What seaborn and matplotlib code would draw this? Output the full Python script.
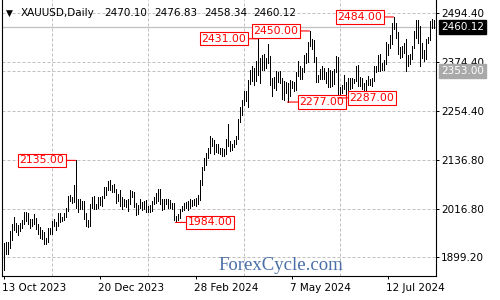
import matplotlib
matplotlib.use("Agg")
import matplotlib.pyplot as plt
import matplotlib.transforms as mtransforms
import numpy as np
import pandas as pd
import seaborn as sns

# ---------------- data (XAUUSD daily, 13 Oct 2023 - 14 Aug 2024) ----------------
highs = [
    1933,
    1936, 1937, 1962, 1981, 1997,
    1983, 1977, 1982, 1990, 2009,
    2009, 2007, 1993, 1993, 2004,
    1994, 1980, 1972, 1965, 1960,
    1947, 1971, 1970, 1987, 1993,
    1984, 2007, 2007, 1997, 2008,
    2018, 2048, 2052, 2047, 2075,
    2135, 2040, 2040, 2035, 2036,
    2007, 1990, 2030, 2047, 2048,
    2029, 2047, 2046, 2048, 2071,
    2070, 2084, 2088, 2075,
    2078, 2065, 2053, 2064,
    2046, 2040, 2039, 2040, 2062,
    2061, 2057, 2032, 2026, 2042,
    2033, 2037, 2038, 2023, 2026,
    2037, 2047, 2056, 2065, 2065,
    2041, 2040, 2040, 2041, 2038,
    2032, 2032, 1999, 2005, 2016,
    2023, 2031, 2034, 2035, 2041,
    2039, 2040, 2043, 2052, 2088,
    2119, 2141, 2152, 2165, 2195,
    2189, 2185, 2175, 2175, 2165,
    2164, 2163, 2188, 2223, 2183,
    2176, 2184, 2195, 2236,
    2266, 2281, 2305, 2305, 2331,
    2354, 2365, 2359, 2378, 2431,
    2384, 2392, 2395, 2385, 2418,
    2390, 2336, 2337, 2352, 2351,
    2353, 2335, 2327, 2326, 2323,
    2331, 2327, 2326, 2351, 2378,
    2365, 2361, 2392, 2396, 2422,
    2450, 2431, 2427, 2386, 2344,
    2357, 2364, 2361, 2351, 2360,
    2355, 2353, 2358, 2388, 2387,
    2314, 2318, 2342, 2326, 2335,
    2335, 2335, 2334, 2365, 2368,
    2337, 2336, 2324, 2331, 2340,
    2334, 2336, 2365, 2364, 2392,
    2394, 2372, 2380, 2424, 2418,
    2440, 2469, 2484, 2470, 2448,
    2412, 2413, 2421, 2430, 2391,
    2393, 2414, 2451, 2477, 2477,
    2461, 2420, 2403, 2430, 2436,
    2475, 2480, 2476.83,
]
lows = [
    1868,
    1908, 1908, 1922, 1942, 1965,
    1960, 1954, 1962, 1970, 1981,
    1987, 1980, 1970, 1975, 1980,
    1967, 1956, 1947, 1944, 1931,
    1932, 1936, 1955, 1956, 1975,
    1965, 1975, 1986, 1988, 1991,
    1997, 2011, 2037, 2031, 2034,
    2019, 2009, 2016, 2017, 1993,
    1976, 1973, 1975, 2019, 2016,
    2016, 2018, 2026, 2023, 2044,
    2052, 2063, 2063, 2058,
    2057, 2031, 2035, 2024,
    2017, 2023, 2021, 2013, 2029,
    2045, 2021, 2002, 2004, 2020,
    2015, 2016, 2010, 2009, 2009,
    2012, 2030, 2031, 2035, 2030,
    2014, 2017, 2028, 2020, 2020,
    2016, 1990, 1984, 1991, 1995,
    2013, 2015, 2019, 2015, 2020,
    2024, 2026, 2025, 2030, 2038,
    2076, 2111, 2123, 2141, 2154,
    2170, 2150, 2155, 2153, 2150,
    2146, 2146, 2150, 2169, 2157,
    2160, 2167, 2174, 2186,
    2228, 2245, 2269, 2279, 2265,
    2322, 2329, 2319, 2328, 2342,
    2324, 2355, 2355, 2360, 2372,
    2319, 2292, 2312, 2306, 2326,
    2324, 2285, 2281, 2298, 2277,
    2291, 2310, 2303, 2306, 2340,
    2333, 2332, 2350, 2372, 2374,
    2414, 2407, 2374, 2326, 2325,
    2333, 2333, 2334, 2323, 2314,
    2314, 2315, 2321, 2351, 2287,
    2289, 2298, 2309, 2295, 2301,
    2308, 2310, 2323, 2328, 2316,
    2316, 2309, 2294, 2298, 2318,
    2318, 2315, 2327, 2350, 2353,
    2353, 2355, 2356, 2370, 2391,
    2409, 2419, 2455, 2434, 2393,
    2385, 2386, 2397, 2353, 2364,
    2370, 2381, 2408, 2433, 2420,
    2364, 2385, 2377, 2382, 2420,
    2429, 2458, 2458.34,
]

symbol = "XAUUSD,Daily"
header_values = ["2470.10", "2476.83", "2458.34", "2460.12"]
y_ticks = [1899.20, 2016.80, 2136.80, 2254.40, 2374.40, 2494.40]
x_tick_index = [0, 48, 96, 144, 192]
x_tick_labels = ["13 Oct 2023", "20 Dec 2023", "28 Feb 2024", "7 May 2024", "12 Jul 2024"]
grid_x_index = [24, 72, 120, 168, 216]
last_price = 2460.12
support_price = 2353.00
pivot_index = [36, 86, 127, 153, 142, 167, 195]
pivot_value = [2135.00, 1984.00, 2431.00, 2450.00, 2277.00, 2287.00, 2484.00]
pivot_side = ["left", "right", "left", "left", "right", "right", "left"]
watermark = "ForexCycle.com"

# ---------------- figure ----------------
sns.set_style("white")
plt.rcParams["font.family"] = ["DejaVu Sans"]

W, H = 500, 300
fig = plt.figure(figsize=(5, 3), dpi=100)
ax = fig.add_axes([2 / W, 24 / H, 434 / W, 276 / H])

n = len(highs)
df = pd.DataFrame({
    "idx": np.repeat(np.arange(n), 2),
    "price": np.ravel(np.column_stack([lows, highs])),
    "bar": np.repeat(np.arange(n), 2),
})

grid_kw = dict(color="#c0c0c0", lw=0.72, linestyle=(0, (3, 2)), zorder=0)
for gx in grid_x_index:
    ax.axvline(gx, **grid_kw)
for gy in y_ticks:
    ax.axhline(gy, **grid_kw)
ax.axhline(support_price, **grid_kw)
ax.axhline(last_price, color="#c0c0c0", lw=0.9, zorder=0)

sns.lineplot(data=df, x="idx", y="price", units="bar", estimator=None,
             color="black", linewidth=0.72, ax=ax, legend=False, sort=False,
             antialiased=False)

ax.set_xlim(-0.75, -0.75 + 434 / 2)
ax.set_ylim(1853.7, 2525.3)
ax.set_xlabel("")
ax.set_ylabel("")

ax.yaxis.tick_right()
ax.set_yticks(y_ticks)
ax.set_yticklabels([f"{v:.2f}" for v in y_ticks])
ax.set_xticks(x_tick_index)
ax.set_xticklabels(x_tick_labels)
for lab in ax.get_xticklabels():
    lab.set_horizontalalignment("left")
ax.tick_params(axis="y", which="major", right=True, left=False, length=2.2,
               width=0.72, pad=1.5, labelsize=7.5, colors="black")
ax.tick_params(axis="x", which="major", bottom=True, length=2.2, width=0.72,
               pad=2.5, labelsize=7.5, colors="black")
for lab in ax.get_xticklabels():
    lab.set_transform(lab.get_transform() + mtransforms.ScaledTranslation(-1 / 100, 0, fig.dpi_scale_trans))

for s in ["left", "bottom", "right"]:
    ax.spines[s].set_visible(True)
    ax.spines[s].set_color("black")
    ax.spines[s].set_linewidth(0.8)
ax.spines["top"].set_visible(False)

# price boxes on the right axis
ax.annotate(f"{last_price:.2f}", xy=(1, last_price), xycoords=("axes fraction", "data"),
            xytext=(5, 0), textcoords="offset pixels", ha="left", va="center",
            fontsize=7.5, color="white", annotation_clip=False,
            bbox=dict(boxstyle="square,pad=0.18", fc="black", ec="black"))
ax.annotate(f"{support_price:.2f}", xy=(1, support_price), xycoords=("axes fraction", "data"),
            xytext=(5, 0), textcoords="offset pixels", ha="left", va="center",
            fontsize=7.5, color="white", annotation_clip=False,
            bbox=dict(boxstyle="square,pad=0.18", fc="#a9a9a9", ec="#a9a9a9"))

# pivot labels
for i, v, side in zip(pivot_index, pivot_value, pivot_side):
    off = -11 if side == "left" else 12
    ax.annotate(f"{v:.2f}", xy=(i, v), xytext=(off, 0), textcoords="offset pixels",
                ha="right" if side == "left" else "left", va="center",
                fontsize=7.8, color="#ff0000", zorder=5,
                bbox=dict(boxstyle="square,pad=0.15", fc="white", ec="#ff0000", lw=0.8),
                arrowprops=dict(arrowstyle="-", color="#ff0000", lw=0.8,
                                shrinkA=0, shrinkB=0))

# header
def fx(px):
    return px / W

def fy(py):
    return 1 - py / H

fig.text(fx(6), fy(13.5), "\u25BC", fontsize=6.5, va="center", ha="left", color="black")
fig.text(fx(21), fy(13.3), symbol, fontsize=7.5, va="center", ha="left", color="black")
for xp, val in zip([104, 154, 204, 253], header_values):
    fig.text(fx(xp), fy(13.3), val, fontsize=7.5, va="center", ha="left", color="black")

# watermark
fig.text(fx(281), fy(265), watermark, fontsize=13.5, family="Liberation Serif",
         color="#4a6fa8", ha="center", va="center")

fig.savefig("out.png", dpi=100)
